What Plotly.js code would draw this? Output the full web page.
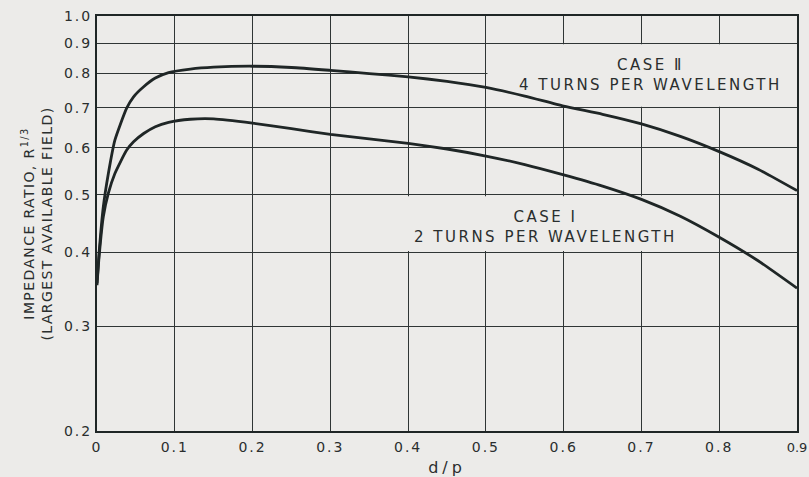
<!DOCTYPE html>
<html>
<head>
<meta charset="utf-8">
<script src="https://cdn.plot.ly/plotly-3.0.1.min.js"></script>
<style>
html,body{margin:0;padding:0;background:#ecebe9;}
#chart{width:809px;height:477px;}
.xtick text,.ytick text{letter-spacing:2px;}
.xtick:last-of-type text{letter-spacing:0;font-size:13px !important;}
.annotation-text{letter-spacing:2.5px;}
.ytitle{letter-spacing:1.4px;}
.xtitle{letter-spacing:4px;}
</style>
</head>
<body>
<div id="chart"></div>
<script>
// d/p values
const dp = [0, 0.0026, 0.0081, 0.0146, 0.023, 0.038, 0.047, 0.06, 0.075, 0.092, 0.12, 0.15, 0.2, 0.25, 0.3, 0.35, 0.4, 0.45, 0.5, 0.55, 0.6, 0.65, 0.7, 0.75, 0.8, 0.85, 0.9];
// Case II: 4 turns per wavelength
const case2 = [0.355, 0.398, 0.477, 0.543, 0.618, 0.699, 0.731, 0.760, 0.786, 0.803, 0.814, 0.820, 0.823, 0.819, 0.810, 0.800, 0.790, 0.776, 0.758, 0.733, 0.705, 0.683, 0.658, 0.627, 0.591, 0.552, 0.508];
// Case I: 2 turns per wavelength
const case1 = [0.352, 0.392, 0.459, 0.503, 0.543, 0.594, 0.614, 0.634, 0.651, 0.662, 0.670, 0.671, 0.660, 0.646, 0.632, 0.621, 0.610, 0.597, 0.581, 0.562, 0.540, 0.517, 0.491, 0.460, 0.424, 0.387, 0.348];

const xTicks = [0, 0.1, 0.2, 0.3, 0.4, 0.5, 0.6, 0.7, 0.8, 0.9];
const xTickText = ['0', '0.1', '0.2', '0.3', '0.4', '0.5', '0.6', '0.7', '0.8', '0.9'];
const yTicks = [0.2, 0.3, 0.4, 0.5, 0.6, 0.7, 0.8, 0.9, 1.0];
const yTickText = ['0.2', '0.3', '0.4', '0.5', '0.6', '0.7', '0.8', '0.9', '1.0'];

const ink = '#1f2626';
const bg = '#ecebe9';
const L = Math.log10;

// label boxes (grid cells left blank behind the labels)
function box(x0, x1, y0, y1) {
  return {x: [x0, x1, x1, x0, x0], y: [y0, y0, y1, y1, y0], mode: 'lines', fill: 'toself',
          fillcolor: bg, line: {width: 0, color: bg}, hoverinfo: 'skip', showlegend: false};
}

const traces = [
  box(0.502, 0.9, 0.703, 0.896),
  box(0.302, 0.798, 0.402, 0.497),
  {x: dp, y: case2, mode: 'lines', name: 'Case II', line: {color: ink, width: 2.8, shape: 'spline', smoothing: 0.5}},
  {x: dp, y: case1, mode: 'lines', name: 'Case I', line: {color: ink, width: 2.8, shape: 'spline', smoothing: 0.5}}
];

const layout = {
  width: 809, height: 477,
  margin: {l: 97, r: 12, t: 16, b: 46},
  paper_bgcolor: bg, plot_bgcolor: bg,
  showlegend: false,
  font: {family: 'DejaVu Sans, sans-serif', color: '#2a2e2e', size: 14},
  xaxis: {
    range: [0, 0.9], tickvals: xTicks, ticktext: xTickText,
    showgrid: true, gridcolor: '#2f3535', gridwidth: 1,
    showline: true, linecolor: ink, linewidth: 2, mirror: true,
    zeroline: false, ticks: '', tickfont: {size: 14}, ticklabelstandoff: 2,
    ticklabeloverflow: 'allow',
    title: {text: 'd/p', font: {size: 16}, standoff: 18}
  },
  yaxis: {
    type: 'log', range: [L(0.2), L(1.0)], tickvals: yTicks, ticktext: yTickText,
    showgrid: true, gridcolor: '#2f3535', gridwidth: 1,
    showline: true, linecolor: ink, linewidth: 2, mirror: true,
    zeroline: false, ticks: '', tickfont: {size: 14},
    title: {text: 'IMPEDANCE RATIO, R<sup>1/3</sup><br>(LARGEST AVAILABLE FIELD)', font: {size: 14}, standoff: 8}
  },
  annotations: [
    {xref: 'x', yref: 'y', x: 0.712, y: -0.1002, text: 'CASE Ⅱ<br>4 TURNS PER WAVELENGTH', showarrow: false, align: 'center', font: {size: 15, color: '#2a2e2e'}},
    {xref: 'x', yref: 'y', x: 0.576, y: -0.3546, text: 'CASE Ⅰ<br>2 TURNS PER WAVELENGTH', showarrow: false, align: 'center', font: {size: 15, color: '#2a2e2e'}}
  ]
};

Plotly.newPlot('chart', traces, layout, {displayModeBar: false, staticPlot: true});
</script>
</body>
</html>
